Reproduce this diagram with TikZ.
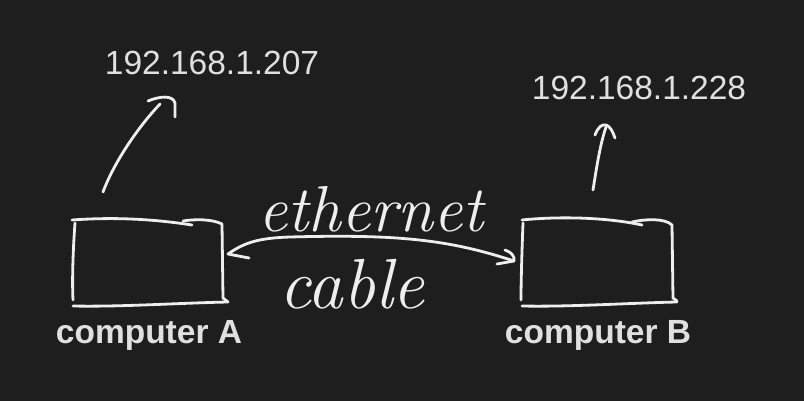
\documentclass[tikz,border=0pt]{standalone}
\usepackage{fontspec}
\newfontfamily\sansf{Liberation Sans}
\definecolor{bg}{HTML}{1E1E1E}
\definecolor{ink}{HTML}{EEEEEE}
\definecolor{txt}{HTML}{E0E0E0}
\begin{document}
\begin{tikzpicture}[x=1pt,y=-1pt,
 sketch/.style={draw=ink,line width=2.8pt,line cap=round,line join=round},
 iplabel/.style={text=txt,font=\sansf\fontsize{33.5}{38}\selectfont,inner sep=0pt,anchor=base},
 pclabel/.style={text=txt,font=\sansf\bfseries\fontsize{33.5}{38}\selectfont,inner sep=0pt,anchor=base},
 handtext/.style={text=ink,font=\itshape\fontsize{65}{70}\selectfont,inner sep=0pt,anchor=base},
 boxarea/.style={minimum width=150pt,minimum height=86pt,inner sep=0pt}]
\fill[bg] (0,0) rectangle (804,401);
\useasboundingbox (0,0) rectangle (804,401);
% box anchors
\node[boxarea] (boxA) at (148,262) {};
\node[boxarea] (boxB) at (597,262) {};
% labels
\node[iplabel] (ipA) at (212,75) {192.168.1.207};
\node[iplabel] (ipB) at (639,100) {192.168.1.228};
\node[pclabel] (pcA) at (149,343) {computer A};
\node[pclabel] (pcB) at (598,343) {computer B};
\node[handtext] (eth) at (371,232) {ethernet};
\node[handtext,font=\itshape\fontsize{71}{76}\selectfont] (cab) at (352,308) {cable};
% box A outline
\draw[sketch] (72,220) .. controls (100,218) and (140,217) .. (192,225);
\draw[sketch] (183,221) .. controls (195,219) and (212,219) .. (222,224) -- (223,298) -- (228,302);
\draw[sketch] (75,223) .. controls (73,250) and (72,280) .. (73,300);
\draw[sketch] (73,306) .. controls (120,307) and (180,303) .. (228,302);
% box B outline
\draw[sketch] (522,220) .. controls (550,217) and (600,216) .. (642,225);
\draw[sketch] (632,222) .. controls (645,219) and (665,218) .. (672,225) -- (673,298) -- (677,301);
\draw[sketch] (523,223) .. controls (522,250) and (521,280) .. (521,300);
\draw[sketch] (522,306) .. controls (570,307) and (630,303) .. (677,302);
% IP arrows
\coordinate (aA0) at (103,192);
\coordinate (aA1) at (160,104);
\draw[sketch] (aA0) .. controls (115,160) and (140,125) .. (aA1);
\draw[sketch] (148,101) .. controls (160,96) and (173,95) .. (175,103) -- (175,117);
\coordinate (aB0) at (593,190);
\coordinate (aB1) at (606,127);
\draw[sketch] (aB0) .. controls (597,165) and (600,145) .. (aB1);
\draw[sketch] (595,135) .. controls (598,127) and (602,124) .. (606,125) .. controls (610,126) and (613,132) .. (615,138);
% cable double arrow
\coordinate (cL) at (228,254);
\coordinate (cR) at (514,261);
\draw[sketch] (249,258) -- (cL) .. controls (245,242) and (260,238) .. (290,237) .. controls (400,234) and (450,240) .. (cR);
\draw[sketch] (505,250) .. controls (511,252) and (515,256) .. (cR) -- (497,264);
\end{tikzpicture}
\end{document}
